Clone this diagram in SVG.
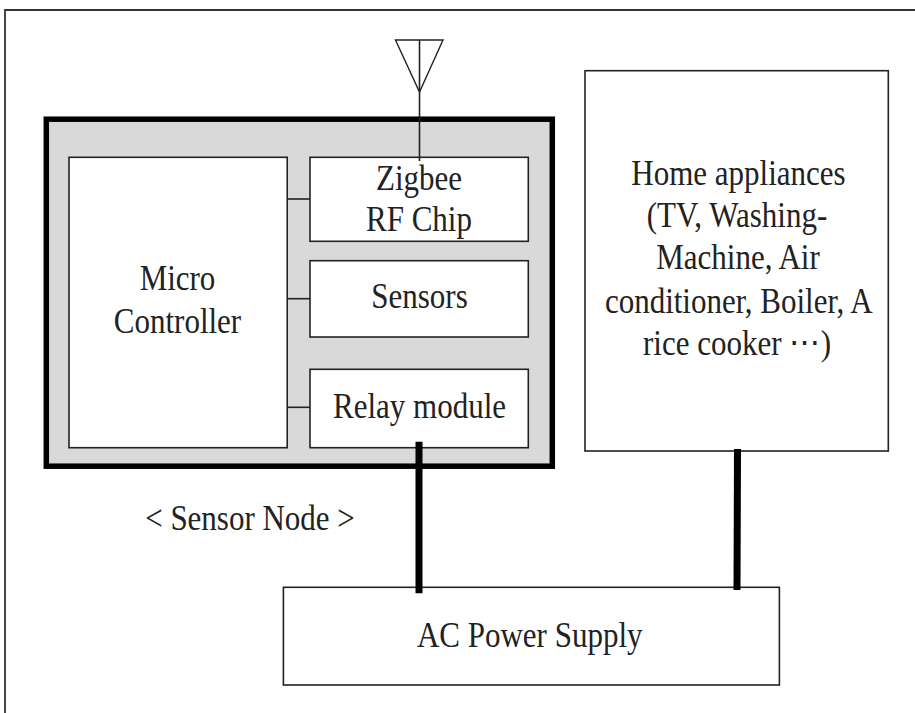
<svg xmlns="http://www.w3.org/2000/svg" width="915" height="713" viewBox="0 0 915 713">
<style>
.box{fill:#fff;stroke:#222;stroke-width:1.6}
.t{font-family:"Liberation Serif","Times New Roman",serif;font-size:31px;fill:#222;text-anchor:middle}
.thin{stroke:#222;stroke-width:1.6;fill:none}
.thick{stroke:#000;stroke-width:7;fill:none}
</style>
<rect width="915" height="713" fill="#fff"/>
<path d="M5,713 V10 H915" fill="none" stroke="#333" stroke-width="1.8"/>
<g id="antenna">
<polygon points="395.5,40 443,40 419.5,92" fill="none" stroke="#222" stroke-width="1.4"/>
</g>
<g id="sensor-node">
<rect x="46.3" y="119.2" width="506" height="347" fill="#d9d9d9" stroke="#000" stroke-width="5.5"/>
</g>
<g id="micro-controller">
<rect class="box" x="69" y="157.3" width="218.2" height="290.4"/>
<text class="t" transform="translate(177.5,290) scale(1,1.16)">Micro</text>
<text class="t" transform="translate(177.5,333.3) scale(1,1.16)">Controller</text>
</g>
<g id="zigbee">
<rect class="box" x="310" y="157.3" width="218.3" height="84"/>
<text class="t" transform="translate(419,190) scale(1,1.16)">Zigbee</text>
<text class="t" transform="translate(419,230.5) scale(1,1.16)">RF Chip</text>
</g>
<g id="sensors">
<rect class="box" x="310" y="260.7" width="218.3" height="76.3"/>
<text class="t" transform="translate(419.5,308.3) scale(1,1.16)">Sensors</text>
</g>
<g id="relay">
<rect class="box" x="310" y="369.3" width="218.3" height="78.4"/>
<text class="t" transform="translate(419.5,418.3) scale(1,1.16)">Relay module</text>
</g>
<g id="home-appliances">
<rect class="box" x="585" y="70.7" width="303.3" height="380.3"/>
<text class="t" transform="translate(738.5,185) scale(1,1.16)">Home appliances</text>
<text class="t" transform="translate(737,226.7) scale(1,1.16)">(TV, Washing-</text>
<text class="t" transform="translate(738,269.3) scale(1,1.16)">Machine, Air</text>
<text class="t" transform="translate(738.8,313.3) scale(1,1.16)">conditioner, Boiler, A</text>
<text class="t" transform="translate(737,355) scale(1,1.16)">rice cooker ⋯)</text>
</g>
<g id="ac-power">
<rect class="box" x="283.4" y="587.3" width="496" height="97.7"/>
<text class="t" transform="translate(529.7,646.7) scale(1,1.16)">AC Power Supply</text>
</g>
<g id="label">
<text class="t" transform="translate(250,530) scale(1,1.16)">&lt; Sensor Node &gt;</text>
</g>
<g id="connectors">
<line class="thin" x1="419.5" y1="40" x2="419.5" y2="161"/>
<line class="thin" x1="287.2" y1="199" x2="310" y2="199"/>
<line class="thin" x1="287.2" y1="298.7" x2="310" y2="298.7"/>
<line class="thin" x1="287.2" y1="407.3" x2="310" y2="407.3"/>
<line class="thick" x1="419" y1="441.7" x2="419" y2="593.3"/>
<line class="thick" x1="737.5" y1="449" x2="737" y2="590"/>
</g>
</svg>
